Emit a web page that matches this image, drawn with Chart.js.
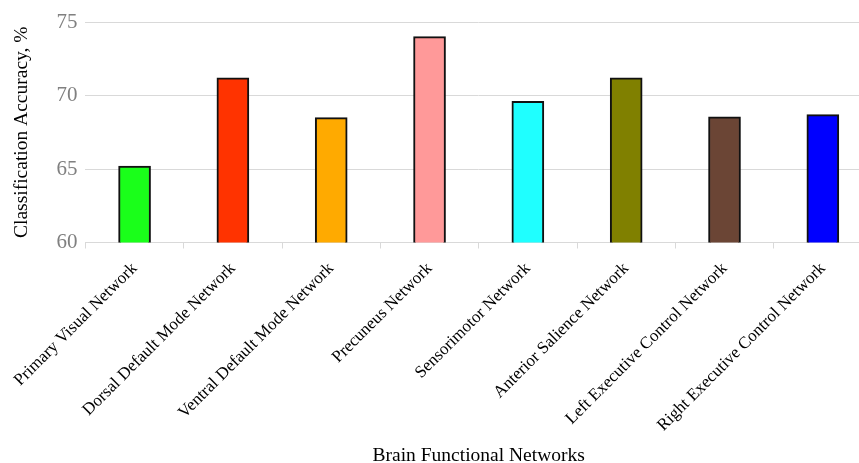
<!DOCTYPE html>
<html>
<head>
<meta charset="utf-8">
<script src="https://cdn.jsdelivr.net/npm/chart.js@4.4.0/dist/chart.umd.min.js"></script>
<style>
  html, body { margin: 0; padding: 0; background: #ffffff; overflow: hidden; }
  #wrap { position: relative; width: 872px; height: 463px; }
</style>
</head>
<body>
<div id="wrap"><canvas id="chart"></canvas></div>
<script>
// Brain functional networks and their classification accuracy (%)
const networks = [
  "Primary Visual Network",
  "Dorsal Default Mode Network",
  "Ventral Default Mode Network",
  "Precuneus Network",
  "Sensorimotor Network",
  "Anterior Salience Network",
  "Left Executive Control Network",
  "Right Executive Control Network"
];
const accuracy = [65.2, 71.2, 68.5, 74.0, 69.6, 71.2, 68.55, 68.7];
const barColors = ["#1aff1a", "#ff3300", "#ffaa00", "#ff9999", "#1fffff", "#808000", "#6b4535", "#0000ff"];
const yTicks = [60, 65, 70, 75];

const serif = "'Liberation Serif', 'Times New Roman', serif";

new Chart(document.getElementById("chart"), {
  type: "bar",
  data: {
    labels: networks,
    datasets: [{
      data: accuracy,
      backgroundColor: barColors,
      borderColor: "#111111",
      borderWidth: 2,
      barThickness: 32
    }]
  },
  options: {
    responsive: true,
    maintainAspectRatio: false,
    animation: false,
    layout: { padding: { top: 22, right: 0, bottom: 0, left: 6 } },
    plugins: {
      legend: { display: false },
      tooltip: { enabled: false }
    },
    scales: {
      x: {
        grid: {
          display: true,
          drawOnChartArea: false,
          drawTicks: true,
          tickLength: 6,
          color: "#d9d9d9"
        },
        border: { display: true, color: "#d9d9d9", width: 1 },
        ticks: {
          minRotation: 45,
          maxRotation: 45,
          color: "#000000",
          padding: 10,
          font: { family: serif, size: 17 }
        },
        title: {
          display: true,
          text: "Brain Functional Networks",
          color: "#000000",
          font: { family: serif, size: 19.5 },
          padding: { top: 20, bottom: -5 }
        }
      },
      y: {
        min: 60,
        max: 75,
        afterBuildTicks: (axis) => { axis.ticks = yTicks.map(v => ({ value: v })); },
        grid: {
          color: "#d9d9d9",
          lineWidth: 1,
          drawTicks: false
        },
        border: { display: false },
        ticks: {
          color: "#808080",
          padding: 8,
          font: { family: serif, size: 21 }
        },
        title: {
          display: true,
          text: "Classification Accuracy, %",
          color: "#000000",
          font: { family: serif, size: 19.5 },
          padding: { top: 4, bottom: 15 }
        }
      }
    }
  }
});
</script>
</body>
</html>
